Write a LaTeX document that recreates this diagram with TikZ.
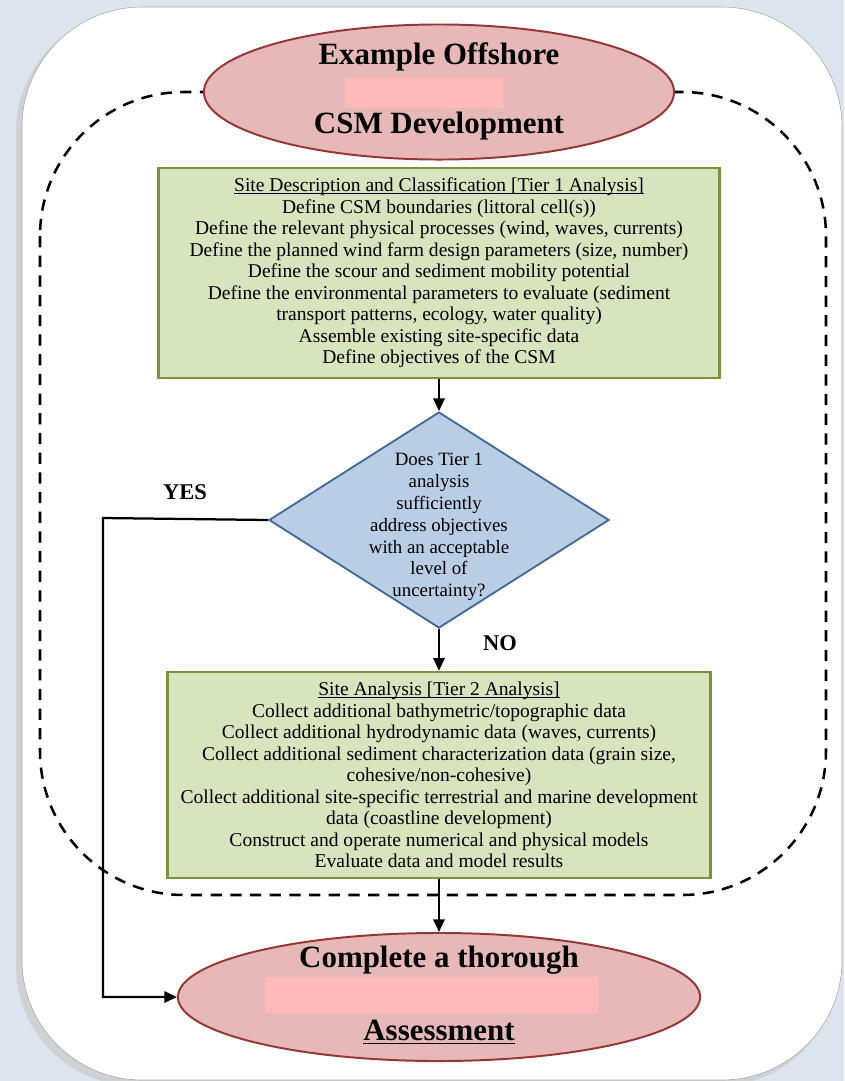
\documentclass[tikz,border=0pt]{standalone}
\usepackage{fontspec}
\setmainfont{Liberation Serif}
\usepackage{tikz}
\usetikzlibrary{shapes,arrows}
\usetikzlibrary{arrows.meta}

\definecolor{seabg}{HTML}{DCE5ED}
\definecolor{ovalfill}{HTML}{E6B9B8}
\definecolor{ovalline}{HTML}{953735}
\definecolor{boxfill}{HTML}{D7E4BD}
\definecolor{boxline}{HTML}{77933C}
\definecolor{decfill}{HTML}{B9CDE5}
\definecolor{decline}{HTML}{41689A}
\definecolor{redact}{HTML}{FFB9B9}

\newcommand{\boxtitle}[1]{\underline{\raisebox{0pt}[\height][0pt]{#1}}}

\begin{document}
\begin{tikzpicture}[x=0.025cm,y=-0.025cm,
	oval/.style={ellipse,draw=ovalline,line width=1.4pt,fill=ovalfill,inner sep=0pt},
	stepbox/.style={draw=boxline,line width=1.8pt,fill=boxfill,align=center,inner sep=0pt,font=\fontsize{13.9}{15.3}\selectfont},
	decision/.style={diamond,draw=decline,line width=1.3pt,fill=decfill,inner sep=0pt,minimum width=8.5cm,minimum height=5.4cm},
	dectext/.style={align=center,inner sep=0pt,font=\fontsize{13.4}{15.5}\selectfont},
	heading/.style={inner sep=0pt,font=\fontsize{22}{26}\selectfont\bfseries},
	answer/.style={inner sep=0pt,font=\fontsize{16}{18}\selectfont\bfseries},
	flow/.style={line width=1.6pt,-{Triangle[length=9pt,width=8pt]}},
	frame/.style={line width=1.8pt,dash pattern=on 8pt off 6pt,rounded corners=3.6cm}]

	\useasboundingbox (0,0) rectangle (844,1081);

	% Draw background
	\fill[seabg] (0,0) rectangle (844,1081);
	\fill[gray!45,opacity=0.6,rounded corners=3cm] (16,12) rectangle (838,1086);
	\draw[gray!70,fill=white,rounded corners=3cm] (22,7) rectangle (842,1080);

	% Draw dashed frame
	\draw[frame] (40,92) rectangle (826,895);

	% Draw start oval
	\node[oval,minimum width=11.75cm,minimum height=3.375cm] (start) at (439,92) {};
	\fill[redact] (345,78) rectangle (503,108);
	\node[heading] (starttop) at (439,57) {Example Offshore};
	\node[heading] (startbot) at (439,126) {CSM Development};

	% Draw tier 1 box
	\node[stepbox,minimum width=14.03cm,minimum height=5.25cm] (tierone) at (439,273) {%
		\boxtitle{Site Description and Classification [Tier 1 Analysis]}\\
		Define CSM boundaries (littoral cell(s))\\
		Define the relevant physical processes (wind, waves, currents)\\
		Define the planned wind farm design parameters (size, number)\\
		Define the scour and sediment mobility potential\\
		Define the environmental parameters to evaluate (sediment\\
		transport patterns, ecology, water quality)\\
		Assemble existing site-specific data\\
		Define objectives of the CSM};

	% Draw decision
	\node[decision] (dec) at (439,520) {};
	\node[dectext] (decq) at (439,527) {Does Tier 1\\ analysis\\ sufficiently\\ address objectives\\ with an acceptable\\ level of\\ uncertainty?};

	% Draw tier 2 box
	\node[stepbox,minimum width=13.58cm,minimum height=5.15cm] (tiertwo) at (439,775) {%
		\boxtitle{Site Analysis [Tier 2 Analysis]}\\
		Collect additional bathymetric/topographic data\\
		Collect additional hydrodynamic data (waves, currents)\\
		Collect additional sediment characterization data (grain size,\\
		cohesive/non-cohesive)\\
		Collect additional site-specific terrestrial and marine development\\
		data (coastline development)\\
		Construct and operate numerical and physical models\\
		Evaluate data and model results};

	% Draw end oval
	\node[oval,minimum width=13.05cm,minimum height=3.2cm] (goal) at (439,997) {};
	\fill[redact] (265,977) rectangle (598,1013);
	\node[heading] (goaltop) at (439,960) {Complete a thorough};
	\node[heading] (goalbot) at (439,1032) {\underline{Assessment}};

	% Draw connectors
	\draw[flow] (tierone) -- (dec);
	\draw[flow] (dec) -- (tiertwo);
	\draw[flow] (tiertwo) -- (goal);
	\coordinate (yesturn) at (103,518);
	\draw[flow] (dec.west) -- (yesturn) |- (goal);
	\draw (185,492) node[answer] (yes) {YES} (500,643) node[answer] (no) {NO};

\end{tikzpicture}
\end{document}
